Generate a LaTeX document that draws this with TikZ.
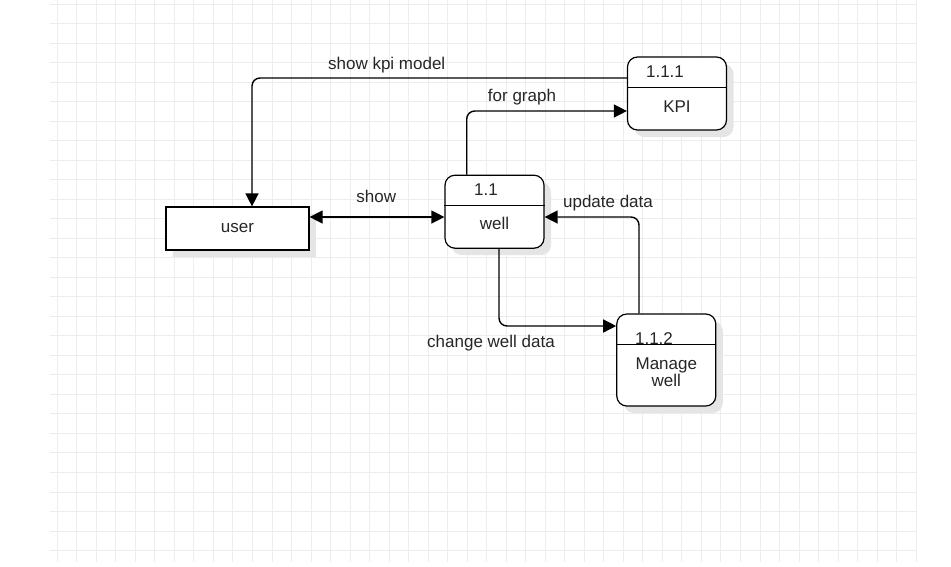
\documentclass[tikz,border=0pt]{standalone}
\usepackage{fontspec}
\setmainfont{Liberation Sans}
\usetikzlibrary{arrows.meta,shadows}
\definecolor{gGray}{RGB}{237,237,237}
\definecolor{sGray}{RGB}{229,229,229}
\definecolor{tGray}{RGB}{38,38,38}
\tikzset{
    proc/.style={draw, rounded corners=10pt, minimum width=99pt, minimum height=73pt, inner sep=0pt, fill=white, line width=1.2pt,
        drop shadow={shadow xshift=7pt, shadow yshift=-7pt, fill=sGray, opacity=1}},
    ent/.style={draw, minimum width=143pt, minimum height=43pt, inner sep=0pt, fill=white, line width=1.2pt, text=tGray,
        font=\fontsize{17}{17}\selectfont, drop shadow={shadow xshift=7pt, shadow yshift=-7pt, fill=sGray, opacity=1}},
    flow/.style={line width=1.4pt, rounded corners=8pt, -{Triangle[length=13pt,width=13pt]}},
    lbl/.style={font=\fontsize{17}{17}\selectfont, text=tGray, inner sep=0pt, anchor=base},
    gridline/.style={gGray, line width=1pt}
}
\begin{document}
\begin{tikzpicture}[x=1pt,y=-1pt]
\useasboundingbox (0,0) rectangle (951,566);
% background grid
\foreach \i in {0,...,44} \draw[gridline] (57.3+19.52*\i,0) -- (57.3+19.52*\i,562);
\foreach \j in {0,...,28} \draw[gridline] (50,4+19.52*\j) -- (916,4+19.52*\j);

% entity and processes
\node[ent] (user) at (237.5,228.5) {user};
\node[proc] (well) at (494.5,211.7) {};
\node[proc] (kpi) at (677,93.5) {};
\node[proc,minimum height=92pt] (manage) at (666.3,360) {};

\draw[line width=1.2pt] ([yshift=-31pt]well.north west) -- ([yshift=-31pt]well.north east);
\draw[line width=1.2pt] ([yshift=-31pt]kpi.north west) -- ([yshift=-31pt]kpi.north east);
\draw[line width=1.2pt] ([yshift=-31pt]manage.north west) -- ([yshift=-31pt]manage.north east);

\node[lbl] (wellNo) at ([xshift=-8.5pt,yshift=-21pt]well.north) {1.1};
\node[lbl] (wellTxt) at ([yshift=19pt]well.south) {well};
\node[lbl] (kpiNo) at ([xshift=-12pt,yshift=-21pt]kpi.north) {1.1.1};
\node[lbl] (kpiTxt) at ([yshift=18.3pt]kpi.south) {KPI};
\node[lbl] (manageNo) at ([xshift=-12.3pt,yshift=-31pt]manage.north) {1.1.2};
\node[lbl,anchor=center,align=center] (manageTxt) at ([yshift=34pt]manage.south) {Manage\\well};

% flows
\draw[flow] (kpi.west |- 0,78) -| (user.north -| 252,0);
\draw[flow] (well.north -| 466.7,0) |- (kpi.west |- 0,111);
\draw[flow,{Triangle[length=13pt,width=13pt]}-{Triangle[length=13pt,width=13pt]}] (user.east |- 0,217) -- (well.west |- 0,217);
\draw[flow] (manage.north -| 639,0) |- (well.east |- 0,217);
\draw[flow] (well.south -| 499,0) |- (manage.west |- 0,326);

\node[lbl] (lShowKpi) at (386.7,69.3) {show kpi model};
\node[lbl] (lGraph) at (522,101) {for graph};
\node[lbl] (lShow) at (376.3,202.3) {show};
\node[lbl] (lUpdate) at (608,207.7) {update data};
\node[lbl] (lChange) at (491,347.7) {change well data};
\end{tikzpicture}
\end{document}
